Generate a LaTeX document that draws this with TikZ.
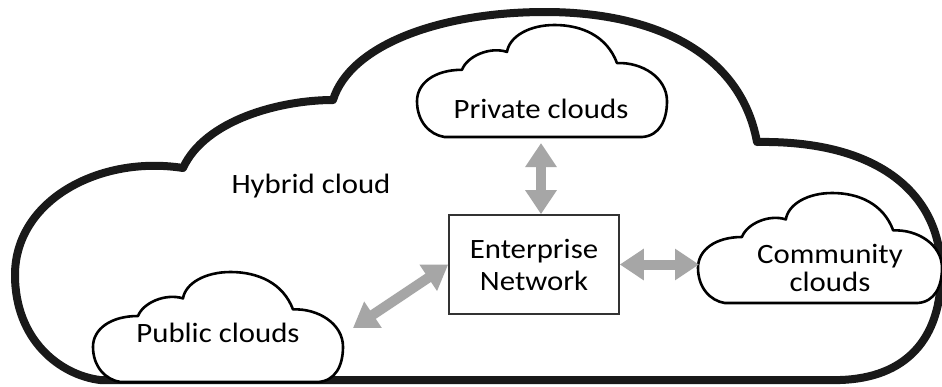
\documentclass[tikz,border=0pt]{standalone}
\usepackage{fontspec}
\setmainfont{Carlito}[FakeStretch=1.1]
\usetikzlibrary{arrows.meta}
\definecolor{arrowgray}{HTML}{A6A6A6}
\tikzset{
  bigcloud/.style={draw=black!90, line width=4pt, fill=white, line join=round},
  smallcloud/.style={draw=black, line width=1.3pt, fill=white, line join=round},
  fatarrow/.style={draw=arrowgray, line width=5pt,
    {Triangle[width=15pt,length=12pt]}-{Triangle[width=15pt,length=12pt]}},
  lbl/.style={font=\fontsize{14}{14}\selectfont, inner sep=0pt, align=center},
  entbox/.style={draw=black!80, line width=0.8pt, minimum width=85pt,
    minimum height=49.5pt, align=center, inner sep=0pt,
    font=\fontsize{14}{16}\selectfont}
}
\newcommand\drawsmallcloud[4]{%
  \begin{scope}[shift={(#1,#2)},xscale=#3,yscale=#4]
    \path[smallcloud] (0.11,1) -- (0.90,1)
      .. controls (0.97,0.99) and (1,0.85) .. (1,0.68)
      .. controls (1,0.47) and (0.90,0.33) .. (0.80,0.34)
      .. controls (0.76,0.10) and (0.66,0) .. (0.55,0)
      .. controls (0.45,0) and (0.37,0.10) .. (0.36,0.24)
      .. controls (0.29,0.19) and (0.20,0.28) .. (0.18,0.40)
      .. controls (0.07,0.40) and (0,0.52) .. (0,0.68)
      .. controls (0,0.86) and (0.05,0.98) .. (0.11,1) -- cycle;
  \end{scope}}
\begin{document}
\begin{tikzpicture}[x=0.5pt,y=-0.5pt]
  \fill[white] (0,0) rectangle (942,386);
  \useasboundingbox (0,0) rectangle (942,386);
  % hybrid (big) cloud
  \path[bigcloud] (100,380) -- (840,380)
    .. controls (905,378) and (942,340) .. (941,270)
    .. controls (940,195) and (880,140) .. (757,142)
    .. controls (740,50) and (650,12) .. (545,12)
    .. controls (440,12) and (350,45) .. (333,100)
    .. controls (280,100) and (205,120) .. (183,168)
    .. controls (100,155) and (15,200) .. (15,275)
    .. controls (15,340) and (60,375) .. (100,380) -- cycle;
  % small clouds
  \drawsmallcloud{417}{25}{250}{112}
  \drawsmallcloud{698}{193}{244}{110}
  \drawsmallcloud{93}{272}{250}{110}
  % labels
  \node[lbl, anchor=base] (hybrid) at (311,193) {Hybrid cloud};
  \node[lbl, anchor=base] (private) at (541,118) {Private clouds};
  \node[lbl, anchor=base] (public) at (218,342) {Public clouds};
  \node[lbl] (community) at (830,268) {Community\\[0pt]clouds};
  \node[entbox] (ent) at (534,264.5) {Enterprise\\Network};
  % arrow end points
  \coordinate (privS) at (541,143);
  \coordinate (commW) at (699,264.5);
  \coordinate (pubE) at (353,328);
  % connectors
  \draw[fatarrow] (privS) -- (privS |- ent.north);
  \draw[fatarrow] (ent.east) -- (commW);
  \draw[fatarrow] (ent.west) -- (pubE);
\end{tikzpicture}
\end{document}
